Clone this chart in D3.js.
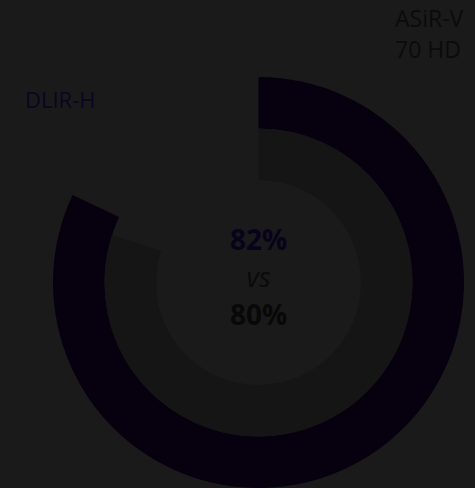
<!DOCTYPE html>
<html>
<head>
<meta charset="utf-8">
<script src="https://cdn.jsdelivr.net/npm/d3@7"></script>
<style>
  html, body { margin: 0; padding: 0; background: #1a1a1a; }
  svg { display: block; }
  text { font-family: "Source Sans Pro", "Open Sans", "Noto Sans", sans-serif; }
</style>
</head>
<body>
<svg id="chart" width="475" height="488"></svg>
<script>
// Share of cases per reconstruction method (percent)
const methods = ["DLIR-H", "ASiR-V 70 HD"];
const shares = [82, 80];
const ringColors = ["#07010f", "#151515"];
const centreColors = ["#09031a", "#080808"];

const svg = d3.select("#chart");
const cx = 258.5, cy = 282.5;
const rOuter = 205.5, band = 51.5;

// Rings run clockwise from twelve o'clock
const angle = d3.scaleLinear().domain([0, 100]).range([0, 2 * Math.PI]);

const g = svg.append("g").attr("transform", `translate(${cx},${cy})`);

const arc = d3.arc();
shares.forEach((v, i) => {
  const r1 = rOuter - i * band;
  g.append("path")
    .attr("d", arc({ innerRadius: r1 - band, outerRadius: r1, startAngle: 0, endAngle: angle(v) }))
    .attr("fill", ringColors[i]);
});

// Centre comparison
g.append("text").attr("x", 0).attr("y", -32.5)
  .attr("text-anchor", "middle").attr("font-size", 28).attr("font-weight", 700)
  .attr("fill", centreColors[0]).text(shares[0] + "%");
g.append("text").attr("x", 0).attr("y", 4)
  .attr("text-anchor", "middle").attr("font-size", 27).attr("font-style", "italic")
  .attr("fill", "#0a0a0a").text("vs");
g.append("text").attr("x", 0).attr("y", 42.5)
  .attr("text-anchor", "middle").attr("font-size", 28).attr("font-weight", 700)
  .attr("fill", centreColors[1]).text(shares[1] + "%");

// Method labels
svg.append("text").attr("x", 25).attr("y", 108)
  .attr("font-size", 22).attr("fill", "#0b0520").text(methods[0]);
const lab = svg.append("text").attr("x", 395).attr("y", 27)
  .attr("font-size", 23).attr("fill", "#0b0b0b");
lab.append("tspan").attr("x", 395).text("ASiR-V");
lab.append("tspan").attr("x", 395).attr("dy", 31).text("70 HD");
</script>
</body>
</html>
